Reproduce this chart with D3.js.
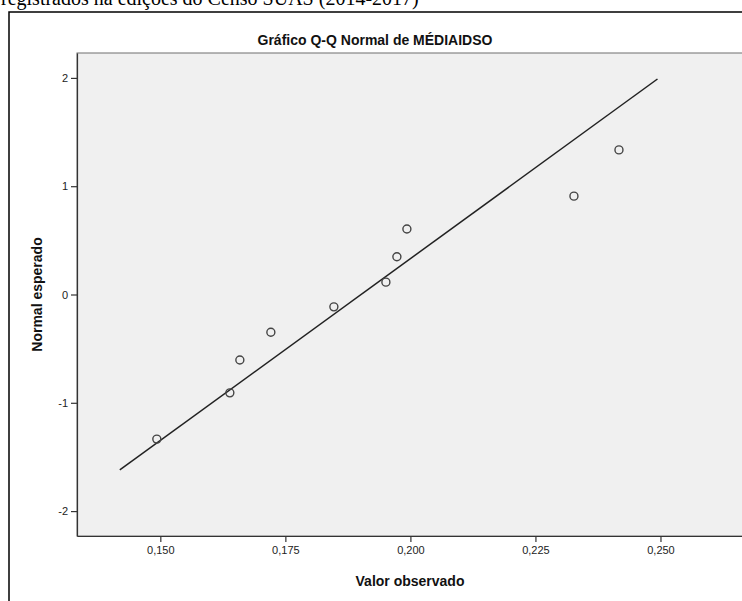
<!DOCTYPE html>
<html><head><meta charset="utf-8">
<script src="https://cdn.jsdelivr.net/npm/d3@7"></script>
<style>body{margin:0;background:#fff;overflow:hidden}svg{display:block}</style>
</head><body>
<script>
// Data
const observed = [0.1493, 0.1639, 0.1659, 0.1721, 0.1847, 0.1951, 0.1973, 0.1993, 0.2327, 0.2417];
const expected = [-1.335, -0.908, -0.605, -0.349, -0.114, 0.114, 0.349, 0.605, 0.908, 1.335];
const lineX = [0.1419, 0.2494];
const lineY = [-1.62, 1.99];
const xTicks = [0.150, 0.175, 0.200, 0.225, 0.250];
const yTicks = [-2, -1, 0, 1, 2];
const title = "Gráfico Q-Q Normal de MÉDIAIDSO";
const xTitle = "Valor observado";
const yTitle = "Normal esperado";
const caption = "registrados na edições do Censo SUAS (2014-2017)";

const W = 742, H = 601;
const svg = d3.select("body").append("svg").attr("width", W).attr("height", H);

// caption text (cut at top, as in the reference)
svg.append("text").attr("x", 1).attr("y", 5)
  .attr("font-family", "'Liberation Serif', 'Times New Roman', serif")
  .attr("font-size", 20).attr("fill", "#000").text(caption);

// outer frame
svg.append("rect").attr("x", 9).attr("y", 12).attr("width", 900).attr("height", 800)
  .attr("fill", "#fff").attr("stroke", "#000").attr("stroke-width", 1.5);

const plot = {left: 77, top: 53, right: 743, bottom: 536};
const x = d3.scaleLinear().domain([0.13334, 0.2665]).range([plot.left, plot.right]);
const y = d3.scaleLinear().domain([-2.23, 2.23]).range([plot.bottom, plot.top]);

svg.append("rect").attr("x", plot.left).attr("y", plot.top)
  .attr("width", plot.right - plot.left + 20).attr("height", plot.bottom - plot.top)
  .attr("fill", "#f0f0f0").attr("stroke", "#6e6e6e").attr("stroke-width", 1);

const fmt = d => d3.format(".3f")(d).replace(".", ",");

const xAxis = svg.append("g").attr("transform", `translate(0,${plot.bottom})`)
  .call(d3.axisBottom(x).tickValues(xTicks).tickFormat(fmt).tickSize(6).tickSizeOuter(0));
const yAxis = svg.append("g").attr("transform", `translate(${plot.left},0)`)
  .call(d3.axisLeft(y).tickValues(yTicks).tickFormat(d => String(d)).tickSize(6).tickSizeOuter(0));

[xAxis, yAxis].forEach(g => {
  g.select(".domain").attr("stroke", "#333").attr("stroke-width", 1.2);
  g.selectAll(".tick line").attr("stroke", "#333").attr("stroke-width", 1.2);
  g.selectAll(".tick text").attr("font-family", "Arial, 'Liberation Sans', sans-serif")
    .attr("font-size", 11).attr("fill", "#222");
});
xAxis.selectAll(".tick text").attr("dy", "0.71em").attr("y", 10);
yAxis.selectAll(".tick text").attr("x", -9);

// reference line
svg.append("line")
  .attr("x1", x(lineX[0])).attr("y1", y(lineY[0]))
  .attr("x2", x(lineX[1])).attr("y2", y(lineY[1]))
  .attr("stroke", "#222").attr("stroke-width", 1.5);

// points
svg.append("g").selectAll("circle").data(observed).join("circle")
  .attr("cx", d => x(d)).attr("cy", (d, i) => y(expected[i])).attr("r", 4)
  .attr("fill", "none").attr("stroke", "#444").attr("stroke-width", 1.4);

// title
svg.append("text").attr("x", 375).attr("y", 45).attr("text-anchor", "middle")
  .attr("font-family", "Arial, 'Liberation Sans', sans-serif").attr("font-weight", "bold")
  .attr("font-size", 14).attr("fill", "#111").text(title);

svg.append("text").attr("x", (plot.left + plot.right) / 2).attr("y", 586).attr("text-anchor", "middle")
  .attr("font-family", "Arial, 'Liberation Sans', sans-serif").attr("font-weight", "bold")
  .attr("font-size", 14).attr("fill", "#111").text(xTitle);

svg.append("text").attr("transform", `translate(42,${(plot.top + plot.bottom) / 2}) rotate(-90)`)
  .attr("text-anchor", "middle")
  .attr("font-family", "Arial, 'Liberation Sans', sans-serif").attr("font-weight", "bold")
  .attr("font-size", 14).attr("fill", "#111").text(yTitle);
</script>
</body></html>
